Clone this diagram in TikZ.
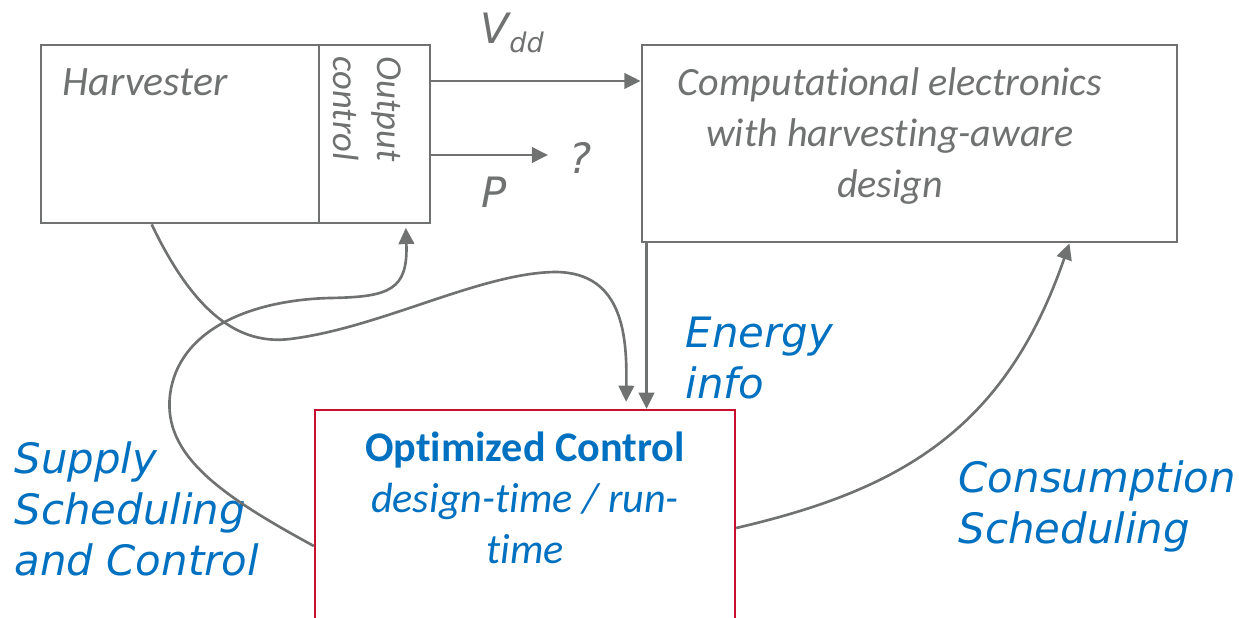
\documentclass[tikz,border=0pt]{standalone}
\usepackage{fontspec}
\setmainfont{Carlito}[Ligatures=NoCommon]
\newfontfamily\verdfont{DejaVu Sans}
\usetikzlibrary{arrows.meta,calc,positioning}
\definecolor{linegray}{RGB}{112,114,114}
\definecolor{ctrlblue}{RGB}{0,112,192}
\definecolor{ctrlred}{RGB}{200,16,46}
\tikzset{
>={Triangle[length=4.6pt,width=4.4pt]},
box/.style={draw=linegray,line width=0.75pt,inner sep=0pt},
graytext/.style={text=linegray,inner sep=0pt,font=\fontsize{11.9pt}{14.5pt}\selectfont\itshape},
bluetext/.style={text=ctrlblue,inner sep=0pt,align=left,font=\verdfont\fontsize{11.9pt}{14.5pt}\selectfont\itshape},
freccia/.style={->,draw=linegray,line width=0.75pt}}

\begin{document}
\begin{tikzpicture}[x=0.01cm,y=-0.01cm]
\useasboundingbox (0,0) rectangle (1239,618);
\clip (0,0) rectangle (1239,618);

\node[box,minimum width=2.78cm,minimum height=1.78cm] (harv) at (180,134) {};
\node[box,minimum width=1.11cm,minimum height=1.78cm] (outc) at (374.5,134) {};
\node[box,minimum width=5.35cm,minimum height=1.97cm] (comp) at (909.5,143.5) {};
\node[box,draw=ctrlred,line width=0.6pt,minimum width=4.2cm,minimum height=2.72cm] (optc) at (525,546) {};

\node[graytext,anchor=base west] (harvtxt) at (62,95) {Harvester};
\node[graytext,rotate=-90,anchor=west,align=left,font=\fontsize{10.4pt}{12.5pt}\selectfont\itshape] (outtxt) at (367,56) {Output\\control};
\node[graytext,anchor=north,align=center,font=\fontsize{11.4pt}{14.5pt}\selectfont\itshape] (comptxt) at (890,67) {Computational electronics\\with harvesting-aware\\design};
\node[text=ctrlblue,inner sep=0pt,anchor=north,align=center,font=\fontsize{12pt}{14.5pt}\selectfont] (opttxt) at (525,431) {{\bfseries Optimized Control}\\{\itshape design-time / run-}\\{\itshape time}};

\node[graytext,anchor=base west,font=\verdfont\fontsize{11.9pt}{14.5pt}\selectfont\itshape] (vdd) at (480,43) {V\raisebox{-2.8pt}{\fontsize{7.7pt}{9pt}\selectfont dd}};
\node[graytext,anchor=base west,font=\verdfont\fontsize{11.9pt}{14.5pt}\selectfont\itshape] (plab) at (481,207) {P};
\node[graytext,anchor=base west,font=\verdfont\fontsize{11.9pt}{14.5pt}\selectfont\itshape] (qm) at (569,173) {?};
\coordinate (pend) at (548,155);

\node[bluetext,anchor=north west] (supply) at (14,441) {Supply\\Scheduling\\and Control};
\node[bluetext,anchor=north west] (energy) at (685,316) {Energy\\info};
\node[bluetext,anchor=north west] (consum) at (958,460) {Consumption\\Scheduling};

\draw[freccia] ([yshift=5.3mm]outc.east) -- ([yshift=5.3mm]outc.east -| comp.west);
\draw[freccia] (outc.east |- pend) -- (pend);
\draw[freccia] ([xshift=0.6mm]comp.south west) -- ([xshift=0.6mm]comp.south west |- optc.north);

\draw[freccia,shorten >=2pt] ([xshift=1.12cm]harv.south west) .. controls (195,315) and (240,345) .. (290,339)
  .. controls (380,328) and (480,273) .. (555,272) .. controls (625,272) and (627,340) .. ([xshift=3.12cm]optc.north west);
\draw[freccia,shorten >=1pt] (optc.west) .. controls (220,495) and (163,455) .. (170,395)
  .. controls (178,330) and (250,300) .. (330,298) .. controls (390,297) and (408,290) .. ([xshift=0.88cm]outc.south west);
\draw[freccia] ([yshift=1.8mm]optc.east) .. controls (900,490) and (1005,430) .. ([xshift=-1.09cm]comp.south east);

\end{tikzpicture}
\end{document}
